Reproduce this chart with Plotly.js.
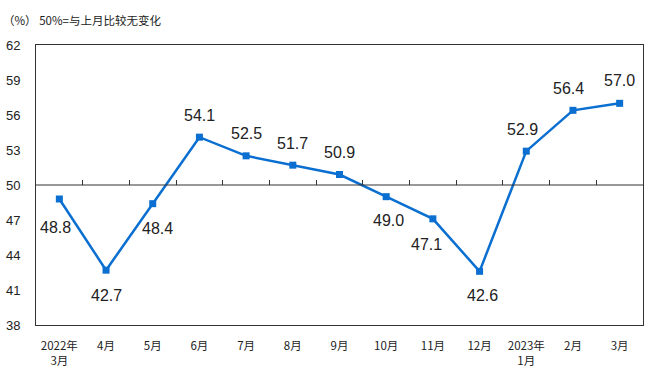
<!DOCTYPE html>
<html>
<head>
<meta charset="utf-8">
<script src="https://cdn.plot.ly/plotly-3.0.1.min.js"></script>
<style>html,body{margin:0;padding:0;background:#fff;}#chart{width:650px;height:388px;}</style>
</head>
<body>
<div id="chart"></div>
<script>
const categories = ['2022年<br>3月','4月','5月','6月','7月','8月','9月','10月','11月','12月','2023年<br>1月','2月','3月'];
const values = [48.8, 42.7, 48.4, 54.1, 52.5, 51.7, 50.9, 49.0, 47.1, 42.6, 52.9, 56.4, 57.0];
const yTicks = [38, 41, 44, 47, 50, 53, 56, 59, 62];

// label offsets in pixels (style only)
const labelDx = [-4, 0, 5, 0, 0, 0, 0, 2, -6, 3, -4, -4, 0];
const labelDy = [28, 25, 25, -22, -22, -22, -22, 24, 26, 24, -22, -22, -23];

const xIdx = categories.map((c, i) => i);

const trace = {
  x: xIdx, y: values, type: 'scatter', mode: 'lines+markers',
  line: {color: '#0a6fd0', width: 2.5},
  marker: {symbol: 'square', size: 7, color: '#0a6fd0'},
  hoverinfo: 'skip', showlegend: false
};
// middle reference line at 50 with ticks at category boundaries
const trace2 = {
  x: [-0.5, 12.5], y: [50, 50], xaxis: 'x2', yaxis: 'y', mode: 'lines',
  line: {color: '#333', width: 1}, hoverinfo: 'skip', showlegend: false
};

const annotations = values.map((v, i) => ({
  x: i, y: v, xref: 'x', yref: 'y', text: v.toFixed(1), showarrow: false,
  xshift: labelDx[i], yshift: -labelDy[i],
  font: {family: 'Liberation Sans, Arial, sans-serif', size: 16, color: '#222'}
}));
annotations.push({
  xref: 'paper', yref: 'paper', x: -0.058, y: 1.0, yshift: 25, xanchor: 'left', yanchor: 'middle',
  text: '（%） 50%=与上月比较无变化', showarrow: false,
  font: {family: 'Noto Sans CJK SC, sans-serif', size: 11.5, color: '#222'}
});

const boundaries = [];
for (let i = 0; i < categories.length - 1; i++) boundaries.push(i + 0.5);

const layout = {
  width: 650, height: 388,
  margin: {l: 36, r: 7, t: 45, b: 63},
  paper_bgcolor: '#fff', plot_bgcolor: '#fff',
  xaxis: {
    range: [-0.5, 12.5], tickmode: 'array', tickvals: xIdx, ticktext: categories,
    showgrid: false, zeroline: false, showline: true, mirror: true, linecolor: '#333', linewidth: 1,
    ticks: '', ticklabelstandoff: 10,
    tickfont: {family: 'Noto Sans CJK SC, sans-serif', size: 11.5, color: '#222'}
  },
  xaxis2: {
    range: [-0.5, 12.5], overlaying: 'x', anchor: 'free', position: 0.5, side: 'top',
    tickmode: 'array', tickvals: boundaries, showticklabels: false,
    ticks: 'outside', ticklen: 5, tickcolor: '#333', tickwidth: 1,
    showgrid: false, zeroline: false, showline: false
  },
  yaxis: {
    range: [38, 62], tickmode: 'array', tickvals: yTicks,
    showgrid: false, zeroline: false, showline: true, mirror: true, linecolor: '#333', linewidth: 1,
    ticks: '', ticklabelstandoff: 12,
    tickfont: {family: 'Liberation Sans, Arial, sans-serif', size: 13, color: '#222'}
  },
  annotations: annotations
};

Plotly.newPlot('chart', [trace2, trace], layout, {displayModeBar: false, staticPlot: true});
</script>
</body>
</html>
